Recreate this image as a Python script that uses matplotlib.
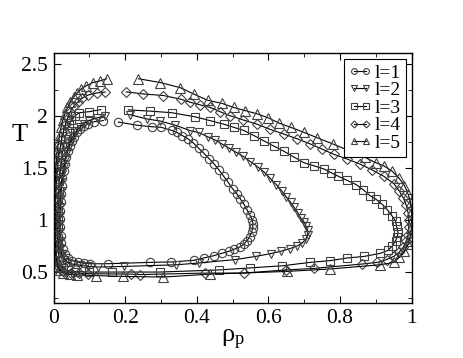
import matplotlib
matplotlib.use("Agg")
import matplotlib.pyplot as plt
from matplotlib.ticker import MultipleLocator

# each curve is one line: starts at top-left end, down the low density side,
# along the bottom, up the high density side, ends at top-right end
rho_l1 = [0.139, 0.114, 0.097, 0.085, 0.075, 0.066, 0.058, 0.051, 0.045, 0.040, 0.035, 0.031,
          0.028, 0.025, 0.023, 0.021, 0.020, 0.019, 0.019, 0.019, 0.020, 0.022, 0.026, 0.032,
          0.040, 0.052, 0.068, 0.085, 0.102, 0.153, 0.270, 0.328, 0.391, 0.419, 0.447, 0.470,
          0.490, 0.505, 0.520, 0.532, 0.540, 0.548, 0.553, 0.556, 0.557, 0.555, 0.548, 0.540,
          0.532, 0.522, 0.512, 0.500, 0.488, 0.475, 0.462, 0.448, 0.434, 0.420, 0.405, 0.390,
          0.375, 0.360, 0.345, 0.330, 0.300, 0.275, 0.233, 0.181]
T_l1 = [1.954, 1.944, 1.925, 1.900, 1.870, 1.840, 1.800, 1.760, 1.710, 1.660, 1.600, 1.540,
        1.470, 1.400, 1.330, 1.250, 1.170, 1.090, 1.010, 0.930, 0.850, 0.780, 0.720, 0.670,
        0.635, 0.610, 0.595, 0.585, 0.580, 0.580, 0.593, 0.597, 0.612, 0.635, 0.657, 0.680,
        0.700, 0.720, 0.740, 0.770, 0.800, 0.840, 0.880, 0.920, 0.960, 1.000, 1.050, 1.100,
        1.150, 1.200, 1.250, 1.300, 1.360, 1.420, 1.480, 1.540, 1.590, 1.640, 1.690, 1.740,
        1.780, 1.810, 1.840, 1.860, 1.890, 1.895, 1.910, 1.940]

rho_l2 = [0.144, 0.121, 0.100, 0.085, 0.073, 0.063, 0.055, 0.048, 0.042, 0.037, 0.032, 0.028,
          0.025, 0.022, 0.020, 0.018, 0.017, 0.016, 0.016, 0.016, 0.017, 0.019, 0.023, 0.030,
          0.040, 0.055, 0.074, 0.095, 0.125, 0.198, 0.343, 0.406, 0.508, 0.564, 0.606, 0.635,
          0.660, 0.680, 0.695, 0.705, 0.710, 0.710, 0.705, 0.700, 0.690, 0.682, 0.672, 0.662,
          0.650, 0.637, 0.622, 0.605, 0.588, 0.570, 0.550, 0.530, 0.510, 0.490, 0.470, 0.450,
          0.430, 0.405, 0.382, 0.340, 0.298, 0.261, 0.214]
T_l2 = [2.000, 1.980, 1.955, 1.925, 1.890, 1.850, 1.810, 1.760, 1.710, 1.650, 1.580, 1.510,
        1.440, 1.360, 1.280, 1.200, 1.120, 1.040, 0.960, 0.880, 0.800, 0.730, 0.670, 0.620,
        0.590, 0.575, 0.565, 0.555, 0.548, 0.554, 0.570, 0.587, 0.620, 0.650, 0.677, 0.700,
        0.725, 0.750, 0.780, 0.820, 0.860, 0.900, 0.940, 0.980, 1.020, 1.070, 1.120, 1.170,
        1.220, 1.280, 1.340, 1.400, 1.460, 1.510, 1.560, 1.610, 1.650, 1.690, 1.730, 1.770,
        1.800, 1.840, 1.857, 1.910, 1.950, 1.970, 2.010]

rho_l3 = [0.132, 0.100, 0.072, 0.060, 0.050, 0.043, 0.037, 0.032, 0.028, 0.024, 0.021, 0.018,
          0.016, 0.014, 0.013, 0.012, 0.012, 0.012, 0.012, 0.013, 0.014, 0.016, 0.020, 0.027,
          0.040, 0.060, 0.100, 0.163, 0.296, 0.461, 0.550, 0.638, 0.717, 0.773, 0.820, 0.867,
          0.913, 0.935, 0.946, 0.955, 0.960, 0.962, 0.958, 0.955, 0.945, 0.932, 0.918, 0.900,
          0.885, 0.865, 0.845, 0.820, 0.795, 0.774, 0.755, 0.727, 0.699, 0.671, 0.643, 0.615,
          0.587, 0.560, 0.531, 0.503, 0.475, 0.436, 0.396, 0.330, 0.270, 0.209]
T_l3 = [2.060, 2.040, 2.030, 2.000, 1.960, 1.910, 1.850, 1.780, 1.710, 1.630, 1.550, 1.460,
        1.370, 1.280, 1.190, 1.100, 1.010, 0.920, 0.830, 0.750, 0.680, 0.620, 0.570, 0.535,
        0.515, 0.505, 0.500, 0.500, 0.500, 0.520, 0.540, 0.560, 0.593, 0.610, 0.635, 0.650,
        0.680, 0.710, 0.750, 0.800, 0.840, 0.880, 0.940, 0.990, 1.040, 1.100, 1.150, 1.200,
        1.230, 1.290, 1.340, 1.380, 1.420, 1.455, 1.490, 1.520, 1.550, 1.605, 1.660, 1.710,
        1.760, 1.810, 1.860, 1.890, 1.920, 1.955, 1.990, 2.030, 2.045, 2.057]

rho_l4 = [0.144, 0.121, 0.097, 0.080, 0.067, 0.056, 0.047, 0.040, 0.034, 0.028, 0.023, 0.019,
          0.015, 0.012, 0.010, 0.008, 0.007, 0.006, 0.006, 0.006, 0.006, 0.006, 0.007, 0.008,
          0.010, 0.014, 0.020, 0.030, 0.050, 0.070, 0.097, 0.216, 0.242, 0.422, 0.531, 0.648,
          0.727, 0.862, 0.904, 0.930, 0.950, 0.965, 0.977, 0.985, 0.990, 0.992, 0.992, 0.990,
          0.985, 0.977, 0.965, 0.950, 0.922, 0.890, 0.857, 0.820, 0.783, 0.750, 0.717, 0.680,
          0.643, 0.605, 0.568, 0.530, 0.494, 0.465, 0.438, 0.410, 0.382, 0.355, 0.307, 0.251,
          0.203]
T_l4 = [2.228, 2.220, 2.200, 2.170, 2.130, 2.090, 2.040, 1.980, 1.920, 1.850, 1.780, 1.700,
        1.620, 1.530, 1.440, 1.350, 1.260, 1.170, 1.080, 0.990, 0.900, 0.810, 0.730, 0.660,
        0.600, 0.550, 0.520, 0.505, 0.495, 0.490, 0.484, 0.480, 0.476, 0.490, 0.490, 0.520,
        0.535, 0.577, 0.593, 0.620, 0.650, 0.690, 0.740, 0.800, 0.860, 0.930, 1.000, 1.070,
        1.140, 1.210, 1.280, 1.350, 1.420, 1.480, 1.535, 1.585, 1.630, 1.680, 1.730, 1.780,
        1.825, 1.870, 1.920, 1.960, 2.000, 2.040, 2.080, 2.105, 2.130, 2.160, 2.195, 2.210,
        2.230]

rho_l5 = [0.148, 0.129, 0.110, 0.092, 0.078, 0.066, 0.056, 0.047, 0.039, 0.032, 0.026, 0.021,
          0.017, 0.013, 0.010, 0.008, 0.006, 0.005, 0.004, 0.004, 0.004, 0.004, 0.004, 0.004,
          0.005, 0.006, 0.008, 0.011, 0.017, 0.027, 0.045, 0.065, 0.120, 0.195, 0.307, 0.436,
          0.652, 0.773, 0.913, 0.950, 0.965, 0.980, 0.990, 0.996, 0.999, 1.000, 1.000, 0.997,
          0.990, 0.980, 0.965, 0.945, 0.922, 0.900, 0.870, 0.829, 0.780, 0.736, 0.700, 0.662,
          0.630, 0.600, 0.568, 0.535, 0.503, 0.470, 0.430, 0.391, 0.354, 0.298, 0.237]
T_l5 = [2.356, 2.335, 2.320, 2.290, 2.260, 2.220, 2.180, 2.130, 2.080, 2.020, 1.960, 1.890,
        1.820, 1.740, 1.660, 1.580, 1.490, 1.400, 1.310, 1.220, 1.130, 1.040, 0.950, 0.860,
        0.770, 0.690, 0.620, 0.560, 0.520, 0.495, 0.480, 0.474, 0.466, 0.458, 0.452, 0.480,
        0.506, 0.530, 0.570, 0.593, 0.640, 0.700, 0.770, 0.840, 0.920, 1.000, 1.090, 1.170,
        1.250, 1.330, 1.400, 1.470, 1.520, 1.550, 1.600, 1.660, 1.730, 1.790, 1.840, 1.890,
        1.930, 1.980, 2.020, 2.050, 2.080, 2.120, 2.150, 2.210, 2.270, 2.320, 2.356]

curves = [("l=1", rho_l1, T_l1, "o"), ("l=2", rho_l2, T_l2, "v"), ("l=3", rho_l3, T_l3, "s"),
          ("l=4", rho_l4, T_l4, "D"), ("l=5", rho_l5, T_l5, "^")]
msizes = {"o": 6, "v": 6, "s": 5.5, "D": 5, "^": 6.5}

plt.rcParams["font.family"] = ["Liberation Serif", "DejaVu Serif"]
plt.rcParams["mathtext.fontset"] = "custom"
plt.rcParams["mathtext.rm"] = "Liberation Serif"

fig = plt.figure(figsize=(4.63, 3.58), dpi=100)
ax = fig.add_axes([0.1156, 0.1528, 0.7735, 0.6982])

for label, x, y, m in curves:
    ax.plot(x, y, color="black", lw=0.8, marker=m, ms=msizes[m], mfc="none",
            mec="0.25", mew=0.8, label=label)

ax.set_xlim(0, 1)
ax.set_ylim(0.2, 2.6)
ax.xaxis.set_minor_locator(MultipleLocator(0.1))
ax.yaxis.set_minor_locator(MultipleLocator(0.25))
ax.set_xticks([0, 0.2, 0.4, 0.6, 0.8, 1.0])
ax.set_xticklabels(["0", "0.2", "0.4", "0.6", "0.8", "1"])
ax.set_yticks([0.5, 1.0, 1.5, 2.0, 2.5])
ax.set_yticklabels(["0.5", "1", "1.5", "2", "2.5"])
ax.tick_params(which="both", direction="in", top=True, right=True, labelsize=15.5, pad=4)
ax.tick_params(which="major", length=5)
ax.tick_params(which="minor", length=3)
for s in ax.spines.values():
    s.set_linewidth(1.0)

ax.set_xlabel(r"$\mathregular{\rho_p}$", fontsize=19, labelpad=0)
ax.set_ylabel("T", fontsize=19, rotation=0)
ax.yaxis.set_label_coords(-0.095, 0.63)

leg = ax.legend(loc="upper right", fontsize=14, numpoints=2, handlelength=1.2,
                handletextpad=0.15, labelspacing=0.0, borderpad=0.25, borderaxespad=0.3,
                markerscale=0.7, fancybox=False, framealpha=1)
leg.get_frame().set_edgecolor("black")
leg.get_frame().set_linewidth(0.8)

fig.savefig("out.png", dpi=100)
